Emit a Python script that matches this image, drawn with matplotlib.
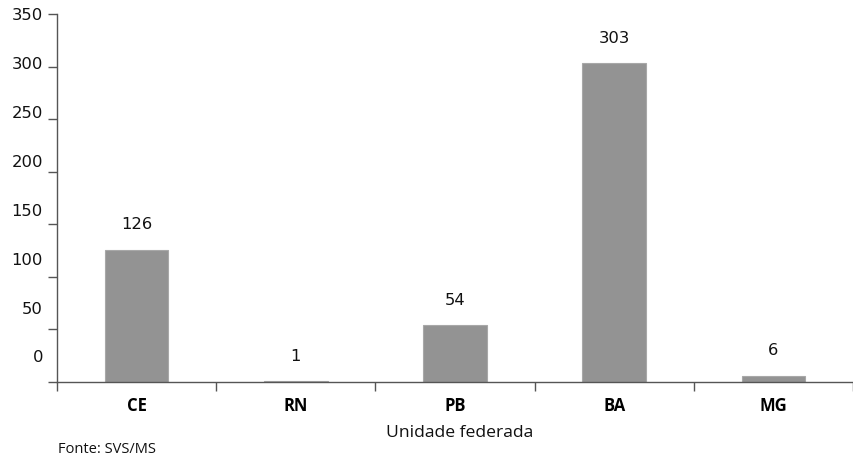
import matplotlib
matplotlib.use("Agg")
import matplotlib.pyplot as plt
import matplotlib.transforms as mtransforms
import numpy as np

plt.rcParams['font.family'] = ['Open Sans', 'DejaVu Sans']

# data
estados = ['CE', 'RN', 'PB', 'BA', 'MG']
casos = [126, 1, 54, 303, 6]
yticks = [0, 50, 100, 150, 200, 250, 300, 350]

bar_color = '#939393'
line_color = '#555555'
num_font = 'DejaVu Sans'

fig = plt.figure(figsize=(8.54, 4.56), dpi=100)
ax = fig.add_axes([57/854, 73/456, 796/854, 368/456])

x = np.arange(len(estados))
ax.bar(x, casos, width=0.4, color=bar_color, edgecolor='#a8a8a8', linewidth=0.8)

# value labels above bars
for xi, v in zip(x, casos):
    ax.annotate(str(v), (xi, v), xytext=(0, 18.5), textcoords='offset points',
                ha='center', va='center', fontsize=11.8, color='#111111',
                family=num_font)

ax.set_xlim(-0.5, -0.5 + 796/162)
ax.set_ylim(0, 350)

# x axis: ticks between categories, labels centred on bars
ax.set_xticks(np.arange(len(estados) + 1) - 0.5)
ax.set_xticklabels([])
ax.set_xticks(x, minor=True)
ax.set_xticklabels(estados, minor=True, fontweight='bold', fontsize=12)
ax.tick_params(axis='x', which='major', direction='out', length=6.5, width=1.0,
               color=line_color)
ax.tick_params(axis='x', which='minor', length=0, pad=10)

# y axis: ticks, labels sit a bit above their ticks in the original
ax.set_yticks(yticks)
ax.set_yticklabels([])
ax.tick_params(axis='y', direction='out', length=6.5, width=1.0, color=line_color)
trans = mtransforms.blended_transform_factory(ax.transAxes, ax.transData)
for v in yticks:
    ypos = 23.8 + v * 0.9293
    ax.text(-14/796, ypos, str(v), transform=trans, ha='right', va='center',
            fontsize=11.8, color='#111111', family=num_font)

for side in ['top', 'right']:
    ax.spines[side].set_visible(False)
for side in ['left', 'bottom']:
    ax.spines[side].set_color(line_color)
    ax.spines[side].set_linewidth(1.0)

fig.text(460/854, 1 - 433/456, 'Unidade federada', ha='center', va='center',
         fontsize=12.6, color='#111111')
fig.text(58/854, 1 - 450/456, 'Fonte: SVS/MS', ha='left', va='center',
         fontsize=10.5, color='#111111')

fig.savefig('out.png', dpi=100)
